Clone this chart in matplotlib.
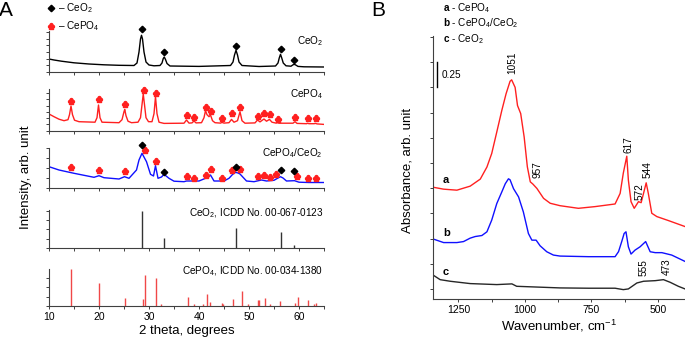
import numpy as np
import matplotlib
matplotlib.use('Agg')
import matplotlib.pyplot as plt
from matplotlib.ticker import MultipleLocator
from matplotlib.lines import Line2D

plt.rcParams['font.family'] = ['Liberation Sans', 'DejaVu Sans']
plt.rcParams['mathtext.fontset'] = 'custom'
plt.rcParams['mathtext.rm'] = 'Liberation Sans'
plt.rcParams['mathtext.it'] = 'Liberation Sans:italic'
plt.rcParams['mathtext.bf'] = 'Liberation Sans:bold'
plt.rcParams['mathtext.default'] = 'regular'

# ---------------- Panel A data (2 theta, intensity arb.) ----------------
ceo2_tt = [10, 11, 12.5, 15, 18, 21, 24, 27.0, 27.6, 28.0, 28.3, 28.5, 28.7, 29.0, 29.4, 30, 31,
           32.2, 32.6, 32.85, 33.05, 33.3, 33.6, 34.2, 40, 46.3, 46.8, 47.1, 47.4, 47.7, 48.0, 48.6,
           52, 55.3, 55.8, 56.05, 56.3, 56.55, 56.85, 57.4, 58.4, 58.8, 59.05, 59.35, 59.8, 61, 65]
ceo2_int = [13, 12, 10.8, 9.2, 8, 7.2, 6.7, 6.5, 9, 20, 33, 36.7, 33, 20, 10, 7, 6.2,
            6.5, 9, 13.5, 15, 12.5, 8.5, 6, 5.6, 6.5, 10, 17, 21.7, 17, 10, 6.5,
            5.5, 6, 9, 14, 17.7, 14, 9, 6.2, 5.8, 7.2, 7.7, 7, 5.6, 5.2, 5]

cepo4_tt = [10, 11, 12, 13, 13.8, 14.1, 14.4, 14.7, 15.1, 16, 19.2, 19.6, 19.9, 20.2, 20.6, 24,
            24.6, 25.0, 25.15, 25.4, 25.8, 26.5, 27.8, 28.3, 28.6, 28.85, 29.1, 29.4, 29.9, 30.6,
            31.0, 31.3, 31.6, 32.0, 33, 37, 37.5, 38, 38.6, 39.0, 39.4, 40.5, 41.0, 41.3, 41.6,
            42.0, 42.3, 42.7, 43.2, 44.3, 44.6, 45, 46.0, 46.5, 47.0, 47.7, 48.2, 48.6, 49.2,
            51.2, 51.7, 52.2, 53.0, 53.5, 54.1, 54.6, 55.4, 55.7, 56.0, 58.8, 59.2, 59.6, 61.5,
            61.7, 62.0, 63.0, 63.3, 63.6, 65]
cepo4_int = [16.7, 14, 11.5, 10, 11, 16, 24.7, 16, 10.5, 9, 8.5, 13, 25.7, 13, 8.5, 8,
             11, 19, 21.3, 15, 9.5, 8, 8.5, 13, 26, 36.7, 26, 13, 9, 9,
             17, 34, 17, 8.5, 7.3, 7.5, 10.7, 7.6, 7.8, 9.7, 7.8, 8, 13, 20, 16,
             14, 15.7, 10, 8, 7.6, 8.3, 7.6, 8, 11.3, 8.5, 10, 19, 10, 7.5,
             7.8, 10.7, 8.8, 11.7, 9.5, 11.3, 8.5, 7.6, 8, 7.5, 7.5, 9, 7.3, 7,
             7.4, 7, 7, 7.3, 6.8, 6.3]

mix_tt = [10, 12, 15, 19, 20, 21, 24, 25.1, 26, 27.5, 28.0, 28.6, 29.1, 29.5, 30.3, 30.9, 31.3,
          31.8, 32.5, 33, 34, 35, 37, 37.5, 40, 41.3, 41.9, 42.3, 43, 45, 46, 46.7, 47.3, 47.8,
          48.2, 49.5, 51, 52.5, 53.5, 55, 55.8, 56.3, 56.8, 57.5, 59.1, 60, 62, 65]
mix_int = [21.3, 18, 14.7, 10.7, 12.3, 10.3, 9, 11.3, 9.7, 18, 28, 34.7, 30, 26.3, 13.7, 12, 22.3,
           9.7, 11, 13.7, 9.7, 6.8, 6.3, 7, 7, 9.7, 11, 13, 7, 7, 9.7, 13.5, 15.7, 15,
           14, 7, 6.3, 8, 7, 7.7, 10, 11.3, 10, 7, 7.3, 5.8, 5.5, 5.5]

# reference stick patterns
ceo2_ref_tt = [28.55, 33.08, 47.48, 56.34, 59.09]
ceo2_ref_int = [36.7, 10, 19.3, 15.3, 2.7]
cepo4_ref_tt = [14.4, 19.95, 25.2, 28.8, 29.2, 31.3, 32.3, 37.7, 38.9, 40.7, 41.5, 42.1, 44.6,
                44.8, 46.8, 48.5, 49.7, 51.7, 52.0, 53.2, 54.1, 56.1, 59.1, 59.7, 61.7, 62.9, 63.4]
cepo4_ref_int = [36.7, 23, 7.3, 6.7, 30.7, 27.3, 1.3, 8.3, 1.7, 1.7, 11.7, 4, 2.3,
                 1.5, 6.7, 14.7, 1.3, 5.7, 5.7, 7.7, 2, 4.3, 2.7, 9, 6, 2, 2.7]

# phase markers
p1_dia_tt = [28.5, 33.0, 47.4, 56.3, 59.0]
p1_dia_y = [43.3, 20, 26, 22.7, 12.3]
p2_club_tt = [14.4, 19.9, 25.1, 28.9, 31.3, 37.5, 39.0, 41.3, 42.3, 44.6, 46.5, 48.2, 51.7,
              53.0, 54.1, 55.7, 59.2, 61.7, 63.3]
p2_club_y = [30, 31.3, 26.7, 40.7, 37.3, 15.7, 13.3, 24, 20, 12.3, 17.3, 23.3, 15,
             18, 16.3, 11.7, 14, 13, 12.3]
p3_dia_tt = [28.5, 33.0, 47.3, 56.3, 59.0]
p3_dia_y = [43, 16.3, 21.3, 18, 17]
p3_club_tt = [14.4, 19.9, 25.1, 29.2, 31.3, 37.5, 39.0, 41.3, 42.3, 44.6, 46.5, 48.2, 51.7,
              53.0, 54.1, 55.3, 59.6, 61.7, 63.3]
p3_club_y = [20.7, 18, 17, 38, 27.3, 12.3, 10.3, 13, 18.7, 10.3, 18.3, 18.7, 12.3,
             13, 10.7, 14, 12.3, 9.7, 9.7]

# ---------------- Panel B data (wavenumber, absorbance) ----------------
a_wn = [1347, 1306, 1256, 1206, 1168, 1143, 1125, 1106, 1087, 1071, 1056, 1050, 1037, 1028, 1016,
        1003, 991, 980, 970, 955, 930, 905, 868, 799, 736, 661, 642, 630, 617, 611, 601, 589,
        573, 563, 554, 544, 536, 523, 504, 460, 398]
a_abs = [1.01, 0.99, 0.98, 1.02, 1.09, 1.21, 1.344, 1.557, 1.772, 1.937, 2.061, 2.075, 2.0, 1.82,
         1.74, 1.508, 1.212, 1.063, 1.04, 0.997, 0.899, 0.85, 0.826, 0.80, 0.817, 0.843, 0.948,
         1.15, 1.317, 1.08, 0.866, 0.80, 0.866, 0.856, 0.948, 1.053, 0.948, 0.751, 0.718, 0.678,
         0.619]
b_wn = [1347, 1306, 1256, 1231, 1206, 1187, 1162, 1143, 1125, 1106, 1087, 1074, 1062, 1056, 1043,
        1024, 1006, 987, 974, 958, 943, 918, 893, 868, 761, 661, 648, 636, 627, 620, 611, 601,
        586, 567, 546, 529, 510, 485, 448, 398]
b_abs = [0.497, 0.46, 0.46, 0.47, 0.504, 0.52, 0.53, 0.567, 0.683, 0.847, 0.963, 1.044, 1.093,
         1.083, 0.995, 0.913, 0.764, 0.55, 0.484, 0.484, 0.428, 0.369, 0.336, 0.326, 0.32, 0.32,
         0.37, 0.47, 0.55, 0.567, 0.418, 0.346, 0.385, 0.418, 0.47, 0.369, 0.36, 0.36, 0.336,
         0.273]
c_wn = [1347, 1319, 1281, 1206, 1106, 1049, 1031, 868, 761, 661, 630, 611, 579, 554, 510, 479,
        454, 423, 398]
c_abs = [0.14, 0.092, 0.076, 0.053, 0.043, 0.05, 0.026, 0.01, 0.007, 0.007, -0.007, 0.0, 0.059,
         0.076, 0.082, 0.092, 0.066, 0.026, 0.0]

peak_labels = ['1051', '957', '617', '572', '544', '555', '473']
peak_wn = [1048, 954, 612, 570, 540, 555, 466]
peak_y = [2.245, 1.18, 1.43, 0.97, 1.18, 0.21, 0.22]

# ---------------- figure ----------------
W, H = 685, 340
fig = plt.figure(figsize=(W / 100, H / 100), dpi=100)


def rect(l, t, r, b):
    return [l / W, 1 - b / H, (r - l) / W, (b - t) / H]


def style(ax, ystep):
    for s in ['top', 'right']:
        ax.spines[s].set_visible(False)
    for s in ['left', 'bottom']:
        ax.spines[s].set_linewidth(0.8)
        ax.spines[s].set_color('0.25')
    ax.tick_params(which='both', direction='out', length=2.5, width=0.7, color='0.25',
                   labelsize=7.5, pad=2)
    ax.tick_params(axis='y', labelleft=False)
    ax.yaxis.set_major_locator(MultipleLocator(ystep))


red = '#ff2020'
club = r'$\clubsuit$'
club_ms = 4.3
fs = 7.2
panels = [(31, 72), (89, 130.7), (148, 188), (210, 247.7), (269, 305.7)]
axes = []
for i, (t, b) in enumerate(panels):
    ax = fig.add_axes(rect(49, t, 324, b))
    ax.set_xlim(10, 65)
    ax.set_ylim(0, b - t)
    ax.xaxis.set_major_locator(MultipleLocator(10))
    ax.xaxis.set_minor_locator(MultipleLocator(5))
    style(ax, [6.7, 6.3, 10, 9.2, 9.2][i])
    ax.tick_params(axis='x', labelbottom=(i == 4))
    axes.append(ax)

ax1, ax2, ax3, ax4, ax5 = axes
ax1.plot(ceo2_tt, ceo2_int, color='k', lw=1)
ax1.plot(p1_dia_tt, p1_dia_y, ls='none', marker='D', ms=3.3, color='k', clip_on=False)
ax2.plot(cepo4_tt, cepo4_int, color=red, lw=1)
ax2.plot(p2_club_tt, p2_club_y, ls='none', marker=club, ms=club_ms, color=red, clip_on=False)
ax3.plot(mix_tt, mix_int, color='#1010ff', lw=1)
ax3.plot(p3_club_tt, p3_club_y, ls='none', marker=club, ms=club_ms, color=red, clip_on=False)
ax3.plot(p3_dia_tt, p3_dia_y, ls='none', marker='D', ms=3.3, color='k', clip_on=False)
ax4.vlines(ceo2_ref_tt, 0, ceo2_ref_int, color='0.2', lw=1)
ax5.vlines(cepo4_ref_tt, 0, cepo4_ref_int, color='#f04848', lw=1)
ax5.set_xlabel('2 theta, degrees', fontsize=9.5, labelpad=2)

ax1.text(0.996, 0.76, 'CeO$_2$', transform=ax1.transAxes, ha='right', va='center', fontsize=fs)
ax2.text(0.996, 0.87, 'CePO$_4$', transform=ax2.transAxes, ha='right', va='center', fontsize=fs)
ax3.text(0.996, 0.88, 'CePO$_4$/CeO$_2$', transform=ax3.transAxes, ha='right', va='center',
         fontsize=fs)
ax4.text(0.996, 0.91, 'CeO$_2$, ICDD No. 00-067-0123', transform=ax4.transAxes, ha='right',
         va='center', fontsize=fs)
ax5.text(0.996, 0.94, 'CePO$_4$, ICDD No. 00-034-1380', transform=ax5.transAxes, ha='right',
         va='center', fontsize=fs)

fig.text(26 / W, 1 - 177 / H, 'Intensity, arb. unit', rotation=90, ha='center', va='center',
         fontsize=9.5)
fig.text(6 / W, 1 - 11 / H, 'A', ha='center', va='center', fontsize=15)

handles = [Line2D([], [], ls='none', marker='D', ms=3.3, color='k'),
           Line2D([], [], ls='none', marker=club, ms=club_ms, color=red)]
fig.legend(handles, ['– CeO$_2$', '– CePO$_4$'], loc='upper left',
           bbox_to_anchor=(46 / W, 1 - 0 / H), frameon=False, fontsize=fs,
           handlelength=0.8, handletextpad=0.3, labelspacing=0.45, borderpad=0.1,
           borderaxespad=0)

# ---------------- Panel B ----------------
axb = fig.add_axes(rect(432.7, 36, 685, 299))
axb.set_xlim(1347, 398)
axb.set_ylim(-0.1, 2.51)
axb.xaxis.set_major_locator(MultipleLocator(250))
axb.xaxis.set_minor_locator(MultipleLocator(125))
style(axb, 0.25)
axb.plot(a_wn, a_abs, color=red, lw=1)
axb.plot(b_wn, b_abs, color='#1010ff', lw=1)
axb.plot(c_wn, c_abs, color='0.15', lw=1)

scale_wn = 1329
scale_y0, scale_len = 2.0, 0.25
axb.plot([scale_wn, scale_wn], [scale_y0, scale_y0 + scale_len], color='k', lw=1)
axb.text(1315, scale_y0 + scale_len / 2, '0.25', ha='left', va='center', fontsize=fs)

for lab, x, y in zip(peak_labels, peak_wn, peak_y):
    axb.text(x, y, lab, rotation=90, ha='center', va='center', fontsize=fs)
for lab, y in zip(['a', 'b', 'c'], [1.08, 0.556, 0.17]):
    axb.text(1308, y, lab, ha='left', va='center', fontsize=8, fontweight='bold')

axb.set_xlabel('Wavenumber, cm$^{-1}$', fontsize=9.5, labelpad=2)
fig.text(408 / W, 1 - 170 / H, 'Absorbance, arb. unit', rotation=90, ha='center', va='center',
         fontsize=9.5)
fig.text(378 / W, 1 - 11 / H, 'B', ha='center', va='center', fontsize=15)
for txt, yy in zip([r'$\mathbf{a}$ - CePO$_4$', r'$\mathbf{b}$ - CePO$_4$/CeO$_2$',
                    r'$\mathbf{c}$ - CeO$_2$'], [8.5, 23.5, 39]):
    fig.text(443 / W, 1 - yy / H, txt, ha='left', va='center', fontsize=fs)

fig.savefig('out.png', dpi=100)
